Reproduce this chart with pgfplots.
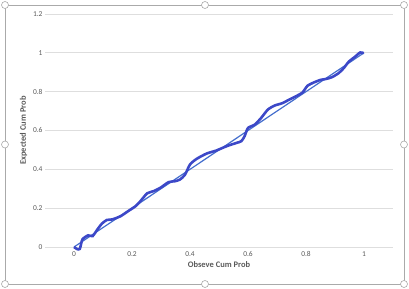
\documentclass[border=0pt]{standalone}
\usepackage{pgfplots}
\pgfplotsset{compat=1.18}
\usepackage{fontspec}
\setmainfont{Carlito}
\definecolor{dataline}{RGB}{60,72,200}
\definecolor{refline}{RGB}{68,110,205}
\definecolor{gridc}{RGB}{222,222,222}
\definecolor{txt}{RGB}{89,89,89}
\definecolor{framec}{RGB}{170,170,170}
\begin{document}
\begin{tikzpicture}[x=1bp,y=1bp]
\path (0,0) rectangle (409,289);
\draw[framec,line width=0.8bp] (5,5) rectangle (404,284);
\foreach \p in {(5,5),(205,5),(404,5),(5,144.5),(404,144.5),(5,284),(205,284),(404,284)}
  \draw[framec,fill=white,line width=0.6bp] \p circle (3.5);
\begin{axis}[
  at={(45bp,42bp)}, anchor=south west,
  width=348bp, height=233bp, scale only axis,
  xmin=-0.1, xmax=1.1, ymin=0, ymax=1.2,
  clip=false,
  axis line style={draw=none},
  tick style={draw=none},
  xtick={0,0.2,0.4,0.6,0.8,1},
  ytick={0,0.2,0.4,0.6,0.8,1,1.2},
  ymajorgrids, grid style={gridc, line width=0.7bp},
  /pgf/number format/assume math mode=true,
  ticklabel style={font=\fontsize{7.5}{8}\selectfont, text=txt},
  xticklabel style={yshift=-1bp},
  yticklabel style={xshift=1bp},
  xlabel={\textbf{Obseve Cum Prob}},
  ylabel={\textbf{Expected Cum Prob}},
  label style={font=\fontsize{8.5}{9.5}\selectfont, text=txt},
  xlabel style={yshift=2bp},
  ylabel style={yshift=-1bp},
]
\addplot[refline, line width=1.2bp] coordinates {(0,0) (1,1)};
\addplot[dataline, line width=2.6bp, smooth, tension=0.4] coordinates {
(0,0) (0.01,-0.01) (0.02,-0.01) (0.029,0.039) (0.049,0.06) (0.064,0.056)
(0.081,0.091) (0.096,0.12) (0.113,0.139) (0.132,0.142) (0.161,0.159)
(0.187,0.185) (0.212,0.21) (0.229,0.236) (0.252,0.276) (0.275,0.288)
(0.298,0.305) (0.326,0.334) (0.349,0.339) (0.366,0.348) (0.383,0.373)
(0.4,0.425) (0.423,0.454) (0.457,0.481) (0.491,0.497) (0.526,0.519)
(0.56,0.536) (0.577,0.545) (0.588,0.57) (0.6,0.613) (0.623,0.63)
(0.645,0.664) (0.668,0.707) (0.691,0.728) (0.719,0.741) (0.742,0.759)
(0.765,0.776) (0.788,0.796) (0.805,0.83) (0.828,0.848) (0.851,0.861)
(0.868,0.865) (0.89,0.875) (0.913,0.896) (0.93,0.921) (0.948,0.955)
(0.97,0.981) (0.987,1.002) (0.999,0.998)
};
\end{axis}
\end{tikzpicture}
\end{document}
